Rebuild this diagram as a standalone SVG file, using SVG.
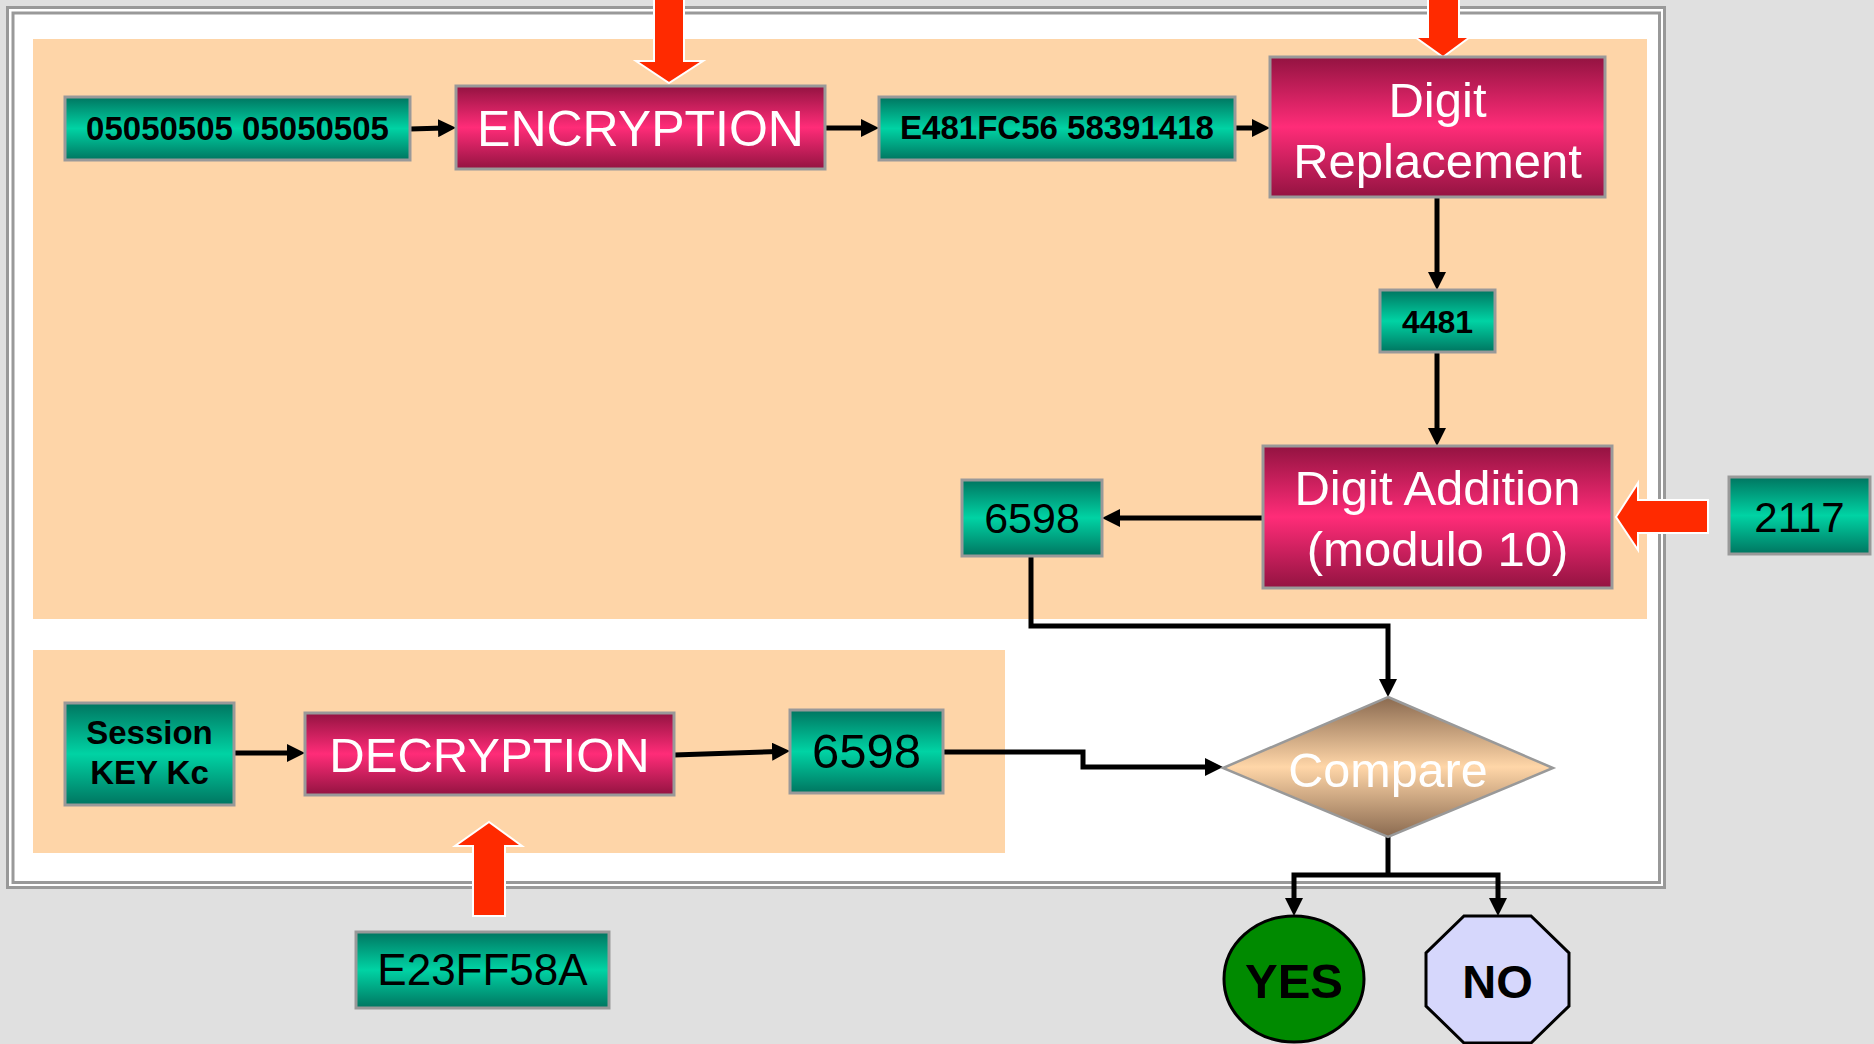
<svg xmlns="http://www.w3.org/2000/svg" width="1874" height="1044" viewBox="0 0 1874 1044">
  <defs>
    <linearGradient id="gTeal" x1="0" y1="0" x2="0" y2="1">
      <stop offset="0" stop-color="#007560"/>
      <stop offset="0.5" stop-color="#00d3a4"/>
      <stop offset="1" stop-color="#007560"/>
    </linearGradient>
    <linearGradient id="gMagenta" x1="0" y1="0" x2="0" y2="1">
      <stop offset="0" stop-color="#931341"/>
      <stop offset="0.5" stop-color="#ff2c78"/>
      <stop offset="1" stop-color="#931341"/>
    </linearGradient>
    <linearGradient id="gTan" x1="0" y1="0" x2="0" y2="1">
      <stop offset="0" stop-color="#8a6a50"/>
      <stop offset="0.5" stop-color="#ffd6a8"/>
      <stop offset="1" stop-color="#8a6a50"/>
    </linearGradient>
    <marker id="arrow" markerUnits="userSpaceOnUse" markerWidth="18" markerHeight="18" refX="6" refY="9" orient="auto">
      <path d="M0,0 L18,9 L0,18 Z" fill="#000"/>
    </marker>
    <style>
      .val { fill: url(#gTeal); stroke: #999; stroke-width: 3; }
      .op { fill: url(#gMagenta); stroke: #999; stroke-width: 3; }
      .panel { fill: #fed5a8; }
      .frame { fill: none; stroke: #999; stroke-width: 3; }
      .wire { fill: none; stroke: #000; stroke-width: 5; }
      .wire.to { marker-end: url(#arrow); }
      .key { fill: #ff2a00; stroke: #fff; stroke-width: 2; }
      text { font-family: "Liberation Sans", Arial, sans-serif; text-anchor: middle; }
      .tb { font-weight: bold; fill: #000; }
      .tn { fill: #000; }
      .tw { fill: #fff; }
    </style>
  </defs>

  <!-- page and framed area -->
  <rect x="0" y="0" width="1874" height="1044" fill="#e0e0e0"/>
  <rect x="7.5" y="7.5" width="1657" height="880" fill="#fff"/>
  <rect class="frame" x="7.5" y="7.5" width="1657" height="880"/>
  <rect class="frame" x="13" y="13" width="1646.5" height="869.5"/>

  <!-- shaded regions -->
  <rect class="panel" x="33" y="39" width="1614" height="580"/>
  <rect class="panel" x="33" y="650" width="972" height="203"/>

  <!-- connectors -->
  <g id="connectors">
    <path class="wire to" d="M410,129 L444,128"/>
    <path class="wire to" d="M825,128 L867,128"/>
    <path class="wire to" d="M1235,128 L1258,128"/>
    <path class="wire to" d="M1437,197 L1437,278"/>
    <path class="wire to" d="M1437,352 L1437,434"/>
    <path class="wire to" d="M1263,518 L1114,518"/>
    <path class="wire to" d="M1031,556 L1031,626 L1388,626 L1388,685"/>
    <path class="wire to" d="M234,753 L293,753"/>
    <path class="wire to" d="M674,755 L778,751.5"/>
    <path class="wire to" d="M943,752 L1083,752 L1083,767 L1211,767"/>
    <path class="wire" d="M1388,837 L1388,875"/>
    <path class="wire to" d="M1388,875 L1294,875 L1294,904"/>
    <path class="wire to" d="M1388,875 L1498,875 L1498,904"/>

    <!-- key inputs -->
    <polygon class="key" points="654,-5 684,-5 684,61 703,61 669,83 636,61 654,61"/>
    <polygon class="key" points="1428,-5 1459,-5 1459,37 1470,37 1443,57 1415,37 1428,37"/>
    <polygon class="key" points="1708,500 1708,533 1638,533 1638,550 1616,517 1638,483 1638,500"/>
    <polygon class="key" points="473,916 505,916 505,846 522,846 489,822 455,846 473,846"/>
  </g>

  <!-- nodes -->
  <g id="plain-in">
    <rect class="val" x="65" y="97" width="345" height="63"/>
    <text class="tb" x="237.5" y="140" font-size="33">05050505 05050505</text>
  </g>
  <g id="encryption">
    <rect class="op" x="456" y="86" width="369" height="83"/>
    <text class="tw" x="640.5" y="146" font-size="50">ENCRYPTION</text>
  </g>
  <g id="cipher">
    <rect class="val" x="879" y="97" width="356" height="63"/>
    <text class="tb" x="1057" y="139" font-size="33">E481FC56 58391418</text>
  </g>
  <g id="digit-replacement">
    <rect class="op" x="1270" y="57" width="335" height="140"/>
    <text class="tw" x="1437.5" y="117" font-size="49">Digit</text>
    <text class="tw" x="1437.5" y="178" font-size="49">Replacement</text>
  </g>
  <g id="digits-4481">
    <rect class="val" x="1380" y="290" width="115" height="62"/>
    <text class="tb" x="1437.5" y="333" font-size="32">4481</text>
  </g>
  <g id="digit-addition">
    <rect class="op" x="1263" y="446" width="349" height="142"/>
    <text class="tw" x="1437.5" y="505" font-size="49">Digit Addition</text>
    <text class="tw" x="1437.5" y="566" font-size="49">(modulo 10)</text>
  </g>
  <g id="addend-2117">
    <rect class="val" x="1729" y="477" width="141" height="77"/>
    <text class="tn" x="1799.5" y="532" font-size="42">2117</text>
  </g>
  <g id="result-6598">
    <rect class="val" x="962" y="480" width="140" height="76"/>
    <text class="tn" x="1032" y="533" font-size="43">6598</text>
  </g>
  <g id="session-key">
    <rect class="val" x="65" y="703" width="169" height="102"/>
    <text class="tb" x="149.5" y="744" font-size="33">Session</text>
    <text class="tb" x="149.5" y="784" font-size="33">KEY Kc</text>
  </g>
  <g id="decryption">
    <rect class="op" x="305" y="713" width="369" height="82"/>
    <text class="tw" x="489.5" y="772" font-size="49">DECRYPTION</text>
  </g>
  <g id="decrypted-6598">
    <rect class="val" x="790" y="710" width="153" height="83"/>
    <text class="tn" x="866.5" y="768" font-size="49">6598</text>
  </g>
  <g id="key-e23ff58a">
    <rect class="val" x="356" y="932" width="253" height="76"/>
    <text class="tn" x="482.5" y="985" font-size="44">E23FF58A</text>
  </g>
  <g id="compare">
    <polygon points="1388,697 1553,768 1388,837 1223,768" fill="url(#gTan)" stroke="#999" stroke-width="2.5"/>
    <text class="tw" x="1388" y="787" font-size="48.5">Compare</text>
  </g>
  <g id="yes">
    <ellipse cx="1294" cy="979" rx="70" ry="63" fill="#008a00" stroke="#000" stroke-width="3"/>
    <text class="tb" x="1294" y="998" font-size="49">YES</text>
  </g>
  <g id="no">
    <polygon points="1464,916 1531,916 1569,953 1569,1006 1531,1043 1464,1043 1426,1006 1426,953" fill="#d6d7fc" stroke="#000" stroke-width="3"/>
    <text class="tb" x="1497.5" y="998" font-size="47">NO</text>
  </g>
</svg>
